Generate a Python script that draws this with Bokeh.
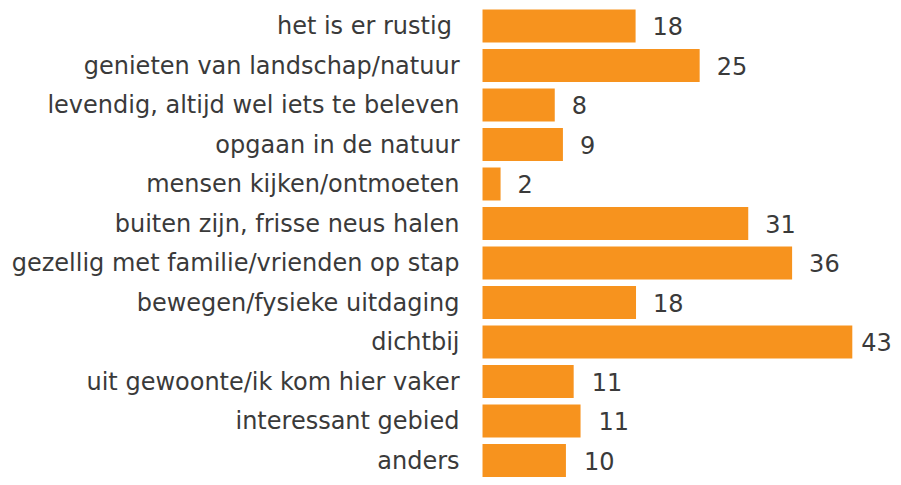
from bokeh.plotting import figure
from bokeh.models import ColumnDataSource, Range1d
from bokeh.core.properties import value
from bokeh.embed import file_html
from bokeh.resources import INLINE

categories = [
    "het is er rustig ",
    "genieten van landschap/natuur",
    "levendig, altijd wel iets te beleven",
    "opgaan in de natuur",
    "mensen kijken/ontmoeten",
    "buiten zijn, frisse neus halen",
    "gezellig met familie/vrienden op stap",
    "bewegen/fysieke uitdaging",
    "dichtbij",
    "uit gewoonte/ik kom hier vaker",
    "interessant gebied",
    "anders",
]
values = [17.8, 25.25, 8.4, 9.35, 2.1, 30.9, 36.0, 17.85, 43.0, 10.6, 11.4, 9.7]
value_labels = ["18", "25", "8", "9", "2", "31", "36", "18", "43", "11", "11", "10"]
label_offsets = [17, 17, 17, 17, 17, 17, 17, 17, 9, 18, 18, 18]

idx = list(range(len(categories)))
src = ColumnDataSource(dict(
    y=idx, v=values, cat=categories, lab=value_labels, off=label_offsets,
    zero=[0] * len(idx),
))

W, H = 893, 477
p = figure(width=W, height=H, output_backend="svg", toolbar_location=None,
           x_range=Range1d(-56.05, 47.79), y_range=Range1d(11.430, -0.6456),
           min_border=0, min_border_left=0, min_border_right=0,
           min_border_top=0, min_border_bottom=0)
p.axis.visible = False
p.grid.visible = False
p.outline_line_color = None
p.background_fill_color = "white"

p.hbar(y="y", left=0, right="v", height=0.835, source=src,
       fill_color="#F7931E", line_color=None)

p.text(x="zero", y="y", text="cat", source=src, x_offset=-23,
       text_align="right", text_baseline="middle",
       text_font=value("DejaVu Sans"), text_font_size="24px",
       text_color="#3a3a3a")

p.text(x="v", y="y", text="lab", source=src, x_offset="off",
       text_align="left", text_baseline="middle",
       text_font=value("DejaVu Sans"), text_font_size="24px",
       text_color="#3a3a3a")

open("out.html", "w").write(file_html(p, INLINE))
